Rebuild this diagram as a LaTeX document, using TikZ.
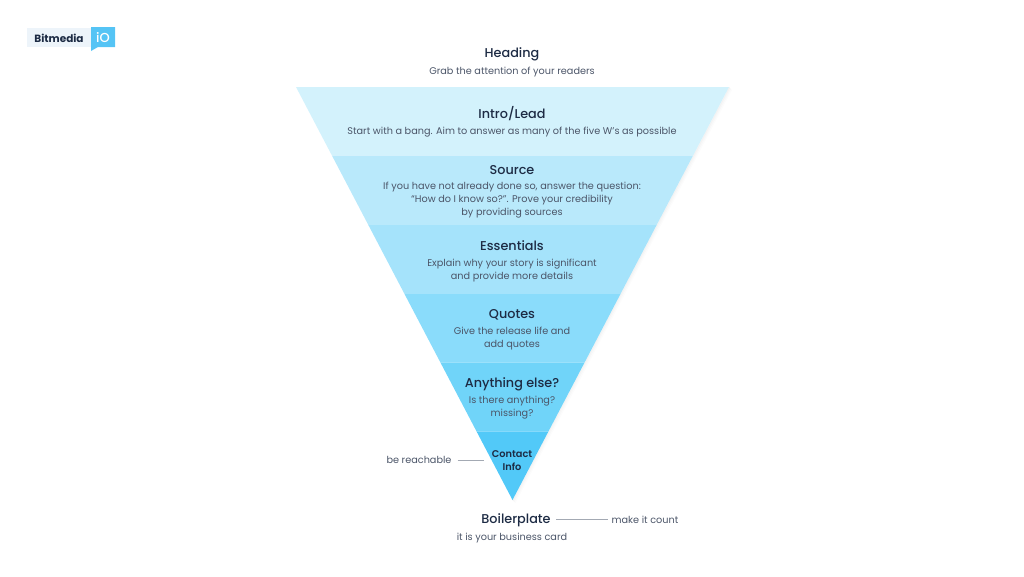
\documentclass[tikz,border=0pt]{standalone}
\usepackage{fontspec}
\setmainfont{Poppins}
\newfontfamily\headfont{Poppins Medium}
\newfontfamily\semifont{Poppins SemiBold}
\definecolor{ink}{HTML}{1D2B44}
\definecolor{subink}{HTML}{4B5568}
\definecolor{rule}{HTML}{A3A9B3}
\definecolor{bandA}{HTML}{D3F2FC}
\definecolor{bandB}{HTML}{B9E9FB}
\definecolor{bandC}{HTML}{A5E3FB}
\definecolor{bandD}{HTML}{8ADCFB}
\definecolor{bandE}{HTML}{70D4F9}
\definecolor{bandF}{HTML}{52C9F8}
\definecolor{logoBg}{HTML}{EDF4FA}
\definecolor{logoBlue}{HTML}{55C4F5}
\tikzset{
  x=1pt,y=-1pt,
  head/.style={inner sep=0pt,text=ink,font=\fontsize{12.8}{15}\selectfont\headfont},
  body/.style={inner sep=0pt,align=center,text=subink,font=\fontsize{9.7}{13}\selectfont},
  side/.style={inner sep=0pt,text=subink,font=\fontsize{9.7}{13}\selectfont},
  conn/.style={draw=rule,line width=0.9pt},
}
\begin{document}
\begin{tikzpicture}
\useasboundingbox (0,0) rectangle (1024,576);
% soft shadow along the right edge of the funnel
\foreach \d/\o in {3/0.012,2/0.015,1/0.02}{
  \fill[black,opacity=\o] (729,87) -- (729+\d,87+\d) -- (512.5+\d,500+\d) -- (512.5,500) -- cycle;
}
% bands
\def\band#1#2#3{%
  \pgfmathsetmacro{\la}{296+(#1-87)/413*216.5}%
  \pgfmathsetmacro{\ra}{729-(#1-87)/413*216.5}%
  \pgfmathsetmacro{\lb}{296+(#2-87)/413*216.5}%
  \pgfmathsetmacro{\rb}{729-(#2-87)/413*216.5}%
  \fill[#3] (\la,#1) -- (\ra,#1) -- (\rb,#2) -- (\lb,#2) -- cycle;}
\band{87}{155.5}{bandA}
\band{155.5}{225}{bandB}
\band{225}{294}{bandC}
\band{294}{362.5}{bandD}
\band{362.5}{431.5}{bandE}
\band{431.5}{500}{bandF}
% logo
\fill[logoBg] (27,28) rectangle (91,47);
\fill[logoBlue] (91,27) rectangle (115,47) (91,47) -- (91,51) -- (98,47) -- cycle;
\node[inner sep=0pt,text=ink,font=\fontsize{10.5}{12}\selectfont\bfseries] (logoname) at (59,38) {Bitmedia};
\node[inner sep=0pt,text=white,font=\fontsize{13}{14}\selectfont\headfont] (logoio) at (103,37.5) {iO};
% texts
\node[head] (heading) at (512,54.5) {Heading};
\node[body] (headingsub) at (512,72.5) {Grab the attention of your readers};
\node[head] (intro) at (512,114) {Intro/Lead};
\node[body] (introsub) at (512,132) {Start with a bang. Aim to answer as many of the five W’s as possible};
\node[head] (source) at (512,170) {Source};
\node[body] (sourcesub) at (512,200.5) {If you have not already done so, answer the question:\\“How do I know so?”. Prove your credibility\\by providing sources};
\node[head] (essentials) at (512,245.5) {Essentials};
\node[body] (essentialssub) at (512,270.5) {Explain why your story is significant\\and provide more details};
\node[head] (quotes) at (512,315) {Quotes};
\node[body] (quotessub) at (512,339) {Give the release life and\\add quotes};
\node[head] (anything) at (512,384.5) {Anything else?};
\node[body] (anythingsub) at (512,408) {Is there anything?\\missing?};
\node[inner sep=0pt,align=center,text=ink,font=\fontsize{9.8}{13}\selectfont\semifont] (contact) at (512,460.5) {Contact\\Info};
\node[head] (boiler) at (516,520.5) {Boilerplate};
\node[body] (boilersub) at (512,538) {it is your business card};
\node[side] (count) at (645,519.5) {make it count};
\node[side] (reach) at (419,460) {be reachable};
\coordinate (reachend) at (484,460);
\coordinate (boilerstart) at (556,519.5);
\coordinate (countstart) at (608,519.5);
\draw[conn] (reach.east) ++(6,0) coordinate (reachstart) -- (reachend);
\draw[conn] (boilerstart) -- (countstart);
\end{tikzpicture}
\end{document}
